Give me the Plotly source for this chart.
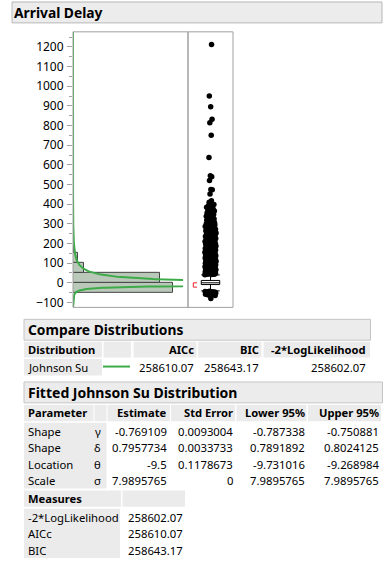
import numpy as np
import plotly.graph_objects as go

# ---------------- data ----------------
bin_centers = [-75, -25, 25, 75, 125, 175]
bin_counts = [45, 12700, 11050, 1400, 600, 160]
bin_width = 50
n_obs = 26000

jsu_gamma = -0.769109
jsu_delta = 0.7957734
jsu_theta = -9.5
jsu_sigma = 7.9895765

box_q1 = -9
box_median = 0
box_q3 = 12
box_lowerfence = -41
box_upperfence = 40
shortest_half = [-22, 0]

upper_outliers = [41, 42, 43, 44, 45, 46, 47, 48, 49, 51, 52, 53, 54, 56, 57, 58, 59, 61, 62, 63, 64,
                  66, 67, 68, 69, 71, 72, 73, 75, 76, 77, 78, 80, 81, 82, 83, 85, 86, 87, 89, 90, 91,
                  92, 94, 95, 96, 98, 99, 100, 101, 103, 104, 105, 107, 108, 109, 111, 112, 113, 114,
                  116, 117, 118, 120, 121, 122, 124, 125, 126, 128, 129, 130, 132, 133, 134, 136, 137,
                  138, 140, 141, 142, 144, 145, 146, 148, 149, 150, 152, 154, 155, 157, 158, 159, 161,
                  162, 163, 166, 167, 168, 170, 171, 172, 175, 176, 177, 179, 181, 182, 184, 186, 187,
                  189, 191, 192, 194, 196, 197, 199, 201, 202, 205, 206, 207, 210, 212, 213, 216, 218,
                  219, 222, 224, 225, 228, 230, 231, 234, 236, 237, 240, 242, 244, 247, 249, 250, 254,
                  256, 257, 261, 263, 265, 268, 270, 272, 276, 278, 280, 284, 286, 288, 292, 294, 296,
                  299, 301, 303, 305, 308, 310, 313, 315, 318, 320, 323, 325, 328, 331, 333, 336, 339,
                  342, 345, 348, 352, 355, 358, 361, 365, 368, 372, 376, 380, 384, 388, 393, 399, 404,
                  410, 418, 452, 474, 475, 520, 540, 545, 638, 751, 815, 832, 896, 950, 1212]
lower_outliers = [-43, -44, -45, -46, -47, -48, -49, -50, -51, -52, -53, -54, -55, -56, -58, -60, -62, -65, -80]

y_tick_values = [-100, 0, 100, 200, 300, 400, 500, 600, 700, 800, 900, 1000, 1100, 1200]

title_text = "Arrival Delay"
compare_title = "Compare Distributions"
compare_headers = ["Distribution", "AICc", "BIC", "-2*LogLikelihood"]
compare_dist = "Johnson Su"
compare_values = ["258610.07", "258643.17", "258602.07"]

fitted_title = "Fitted Johnson Su Distribution"
param_headers = ["Parameter", "Estimate", "Std Error", "Lower 95%", "Upper 95%"]
param_names = ["Shape", "Shape", "Location", "Scale"]
param_symbols = ["γ", "δ", "θ", "σ"]
estimates = ["-0.769109", "0.7957734", "-9.5", "7.9895765"]
std_errors = ["0.0093004", "0.0033733", "0.1178673", "0"]
lower95 = ["-0.787338", "0.7891892", "-9.731016", "7.9895765"]
upper95 = ["-0.750881", "0.8024125", "-9.268984", "7.9895765"]

measures_title = "Measures"
measure_names = ["-2*LogLikelihood", "AICc", "BIC"]
measure_values = ["258602.07", "258610.07", "258643.17"]

# ---------------- layout helpers ----------------
W, H = 386, 566
FONT = "Noto Sans, Open Sans, sans-serif"
HDR = "#ebebeb"
GREEN = "#3dab48"
BODY = 11.3
HEAD = 11.2
SECTION = 13.8


def X(px):
    return px / W


def Y(py):
    return 1 - py / H


Y_MIN, Y_MAX = -125, 1277

# fitted Johnson Su density scaled to counts
yy = np.linspace(Y_MIN, Y_MAX, 2000)
u = (yy - jsu_theta) / jsu_sigma
z = jsu_gamma + jsu_delta * np.arcsinh(u)
pdf = jsu_delta / (jsu_sigma * np.sqrt(2 * np.pi)) / np.sqrt(1 + u ** 2) * np.exp(-z ** 2 / 2)
curve_x = n_obs * bin_width * pdf

hist_xmax = max(bin_counts) * 1.1

fig = go.Figure()

fig.add_trace(go.Bar(
    y=bin_centers, x=bin_counts, width=bin_width, orientation="h",
    marker=dict(color="#b9c8b9", line=dict(color="#444444", width=1)),
    xaxis="x", yaxis="y", hoverinfo="skip", showlegend=False))

fig.add_trace(go.Scatter(
    x=curve_x, y=yy, mode="lines", line=dict(color=GREEN, width=2),
    xaxis="x", yaxis="y", hoverinfo="skip", showlegend=False))

fig.add_trace(go.Box(
    x=[0.5], q1=[box_q1], median=[box_median], q3=[box_q3],
    lowerfence=[box_lowerfence], upperfence=[box_upperfence],
    width=0.41, whiskerwidth=1, boxpoints=False, fillcolor="white",
    line=dict(color="black", width=1), xaxis="x2", yaxis="y2",
    hoverinfo="skip", showlegend=False))


def jitter(vals, dense_limit=400):
    xs = []
    for i, v in enumerate(vals):
        f = ((i * 0.6180339887) % 1) - 0.5
        if abs(v) < 300:
            spread = 0.25
        elif abs(v) < dense_limit:
            spread = 0.19
        else:
            spread = 0.08
        xs.append(0.5 + spread * f)
    return xs


outs = upper_outliers + lower_outliers
fig.add_trace(go.Scatter(
    x=jitter(outs), y=outs, mode="markers",
    marker=dict(color="black", size=5.5, line=dict(width=0)),
    xaxis="x2", yaxis="y2", hoverinfo="skip", showlegend=False))

# shortest half bracket
fig.add_shape(type="path", xref="x2", yref="y2",
              path=f"M 0.2 {shortest_half[1]} L 0.118 {shortest_half[1]} L 0.118 {shortest_half[0]} L 0.2 {shortest_half[0]}",
              line=dict(color="#e8232d", width=1))

ydom = [Y(309), Y(32)]
fig.update_layout(
    width=W, height=H, margin=dict(l=0, r=0, t=0, b=0),
    paper_bgcolor="white", plot_bgcolor="rgba(0,0,0,0)",
    font=dict(family=FONT, size=12, color="black"),
    xaxis=dict(domain=[X(73), X(183)], range=[0, hist_xmax], visible=False, fixedrange=True),
    yaxis=dict(domain=ydom, range=[Y_MIN, Y_MAX], tickvals=y_tick_values,
               ticks="outside", ticklen=5, tickcolor="#a0a0a0", tickwidth=1,
               showgrid=False, zeroline=False, showline=False, ticklabelstandoff=1,
               tickfont=dict(family=FONT, size=12, color="black"),
               minor=dict(dtick=50, tick0=0, ticks="outside", ticklen=3, tickcolor="#a0a0a0", showgrid=False),
               anchor="x"),
    xaxis2=dict(domain=[X(188), X(233)], range=[0, 1], visible=False, anchor="y2"),
    yaxis2=dict(domain=ydom, range=[Y_MIN, Y_MAX], visible=False, anchor="x2", matches="y"),
    bargap=0,
)

shapes = []


def rect(x0, y0, x1, y1, fill, line=None):
    shapes.append(dict(type="rect", xref="paper", yref="paper",
                       x0=X(x0), x1=X(x1), y0=Y(y1), y1=Y(y0),
                       fillcolor=fill, line=dict(color=line or "rgba(0,0,0,0)", width=1 if line else 0),
                       layer="below"))


# title bar
rect(12, 2, 382, 23, "#ececec", "#b8b8b8")
# panels
shapes.append(dict(type="rect", xref="paper", yref="paper", x0=X(73), x1=X(188), y0=Y(309), y1=Y(32),
                   line=dict(color="#a0a0a0", width=1), layer="above"))
shapes.append(dict(type="rect", xref="paper", yref="paper", x0=X(188), x1=X(233), y0=Y(309), y1=Y(32),
                   line=dict(color="#a0a0a0", width=1), layer="above"))
# compare table
rect(24, 321, 370.5, 342, "#ececec", "#c4c4c4")
for a, b in [(24, 102), (103.5, 131), (133.5, 196.5), (198, 261.5), (263.5, 370)]:
    rect(a, 343.5, b, 359.5, HDR)
rect(24, 361, 102, 377.5, HDR)
shapes.append(dict(type="line", xref="paper", yref="paper", x0=X(103), x1=X(130), y0=Y(368.5), y1=Y(368.5),
                   line=dict(color=GREEN, width=2)))
# fitted table
rect(24, 384, 382.5, 405, "#ececec", "#c4c4c4")
for a, b in [(24, 93.5), (94.5, 106.5), (107.5, 170), (171, 235), (236.5, 306.5), (308, 381)]:
    rect(a, 407, b, 423.5, HDR)
rect(24, 425, 106.5, 491, HDR)
# measures table
rect(24, 493, 121, 509.5, HDR)
rect(122.5, 493, 185, 509.5, HDR)
rect(24, 511.5, 120, 561, HDR)

annotations = []


def text(s, x, y, anchor="left", bold=False, size=BODY):
    annotations.append(dict(text=f"<b>{s}</b>" if bold else s, x=X(x), y=Y(y), xref="paper", yref="paper",
                            xanchor=anchor, yanchor="middle", showarrow=False, borderpad=0, borderwidth=0,
                            font=dict(family=FONT, size=size, color="black")))


text(title_text, 13.5, 13, bold=True, size=SECTION)
text(compare_title, 27.5, 331.5, bold=True, size=SECTION)
text(compare_headers[0], 27.5, 351, bold=True, size=HEAD)
for s, xr in zip(compare_headers[1:], [193.5, 258.5, 366]):
    text(s, xr, 351, anchor="right", bold=True, size=HEAD)
text(compare_dist, 27.5, 369)
for s, xr in zip(compare_values, [193.5, 258.5, 366]):
    text(s, xr, 369, anchor="right")

text(fitted_title, 27.5, 394.5, bold=True, size=14.0)
text(param_headers[0], 27.5, 415, bold=True, size=HEAD)
col_right = [167, 232.5, 305, 378.5]
for s, xr in zip(param_headers[1:], col_right):
    text(s, xr, 415, anchor="right", bold=True, size=HEAD)
row_y = [433.5, 450, 466.8, 483.5]
for i, ry in enumerate(row_y):
    text(param_names[i], 27.5, ry)
    text(param_symbols[i], 97.5, ry, anchor="center")
    for s, xr in zip([estimates[i], std_errors[i], lower95[i], upper95[i]], col_right):
        text(s, xr, ry, anchor="right")

text(measures_title, 27.5, 501.5, bold=True, size=HEAD)
for i, ry in enumerate([520, 536.7, 553.3]):
    text(measure_names[i], 27.5, ry)
    text(measure_values[i], 128, ry)

fig.update_layout(shapes=fig.layout.shapes + tuple(shapes), annotations=annotations)

fig.write_html("out.html", config={"displayModeBar": False},
               post_script="document.body.style.margin='0';document.body.style.overflow='hidden';")
